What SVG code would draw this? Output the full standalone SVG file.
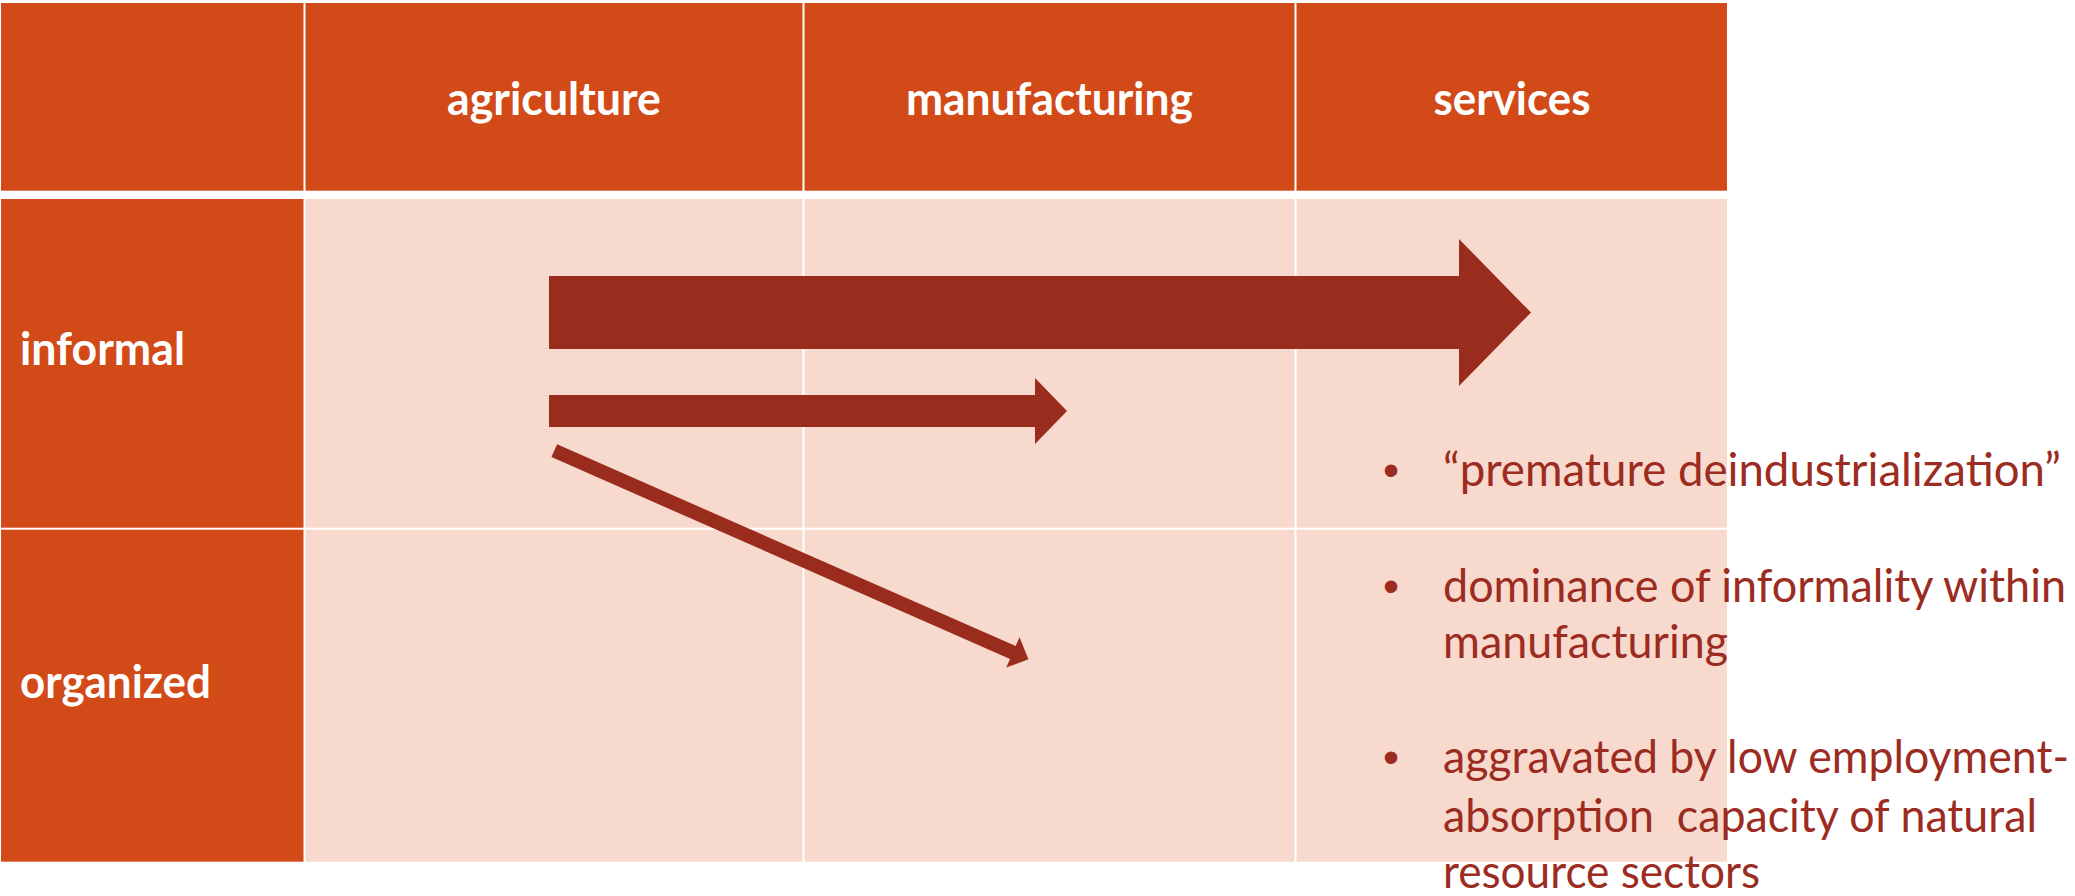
<svg xmlns="http://www.w3.org/2000/svg" width="2075" height="896" viewBox="0 0 2075 896">
  <style>
    .hdr { fill: #D24A18; }
    .cell { fill: #F8D9CD; }
    .lbl { font-family: Lato, "Liberation Sans", sans-serif; font-weight: 700; font-size: 46px; fill: #FFFFFF; }
    .ctr { text-anchor: middle; }
    .arrow { fill: #9A2C1D; }
    .note { font-family: Lato, "Liberation Sans", sans-serif; font-size: 46px; fill: #9B2C1F; }
    .dot { font-family: "Liberation Sans", Arial, sans-serif; font-size: 46px; fill: #9B2C1F; text-anchor: middle; }
  </style>

  <rect x="0" y="0" width="2075" height="896" fill="#FFFFFF"/>

  <!-- header row -->
  <g id="header-corner">
    <rect class="hdr" x="1" y="3" width="302.5" height="187.7"/>
  </g>
  <g id="header-agriculture">
    <rect class="hdr" x="305.5" y="3" width="497" height="187.7"/>
    <text class="lbl ctr" x="554" y="115" textLength="214" lengthAdjust="spacingAndGlyphs">agriculture</text>
  </g>
  <g id="header-manufacturing">
    <rect class="hdr" x="804.5" y="3" width="490" height="187.7"/>
    <text class="lbl ctr" x="1049.5" y="115" textLength="287" lengthAdjust="spacingAndGlyphs">manufacturing</text>
  </g>
  <g id="header-services">
    <rect class="hdr" x="1296.5" y="3" width="430.5" height="187.7"/>
    <text class="lbl ctr" x="1512" y="115" textLength="157" lengthAdjust="spacingAndGlyphs">services</text>
  </g>

  <!-- informal row -->
  <g id="row-informal">
    <rect class="hdr" x="1" y="199" width="302.5" height="328.7"/>
    <text class="lbl" x="20" y="365" textLength="165" lengthAdjust="spacingAndGlyphs">informal</text>
  </g>
  <g id="informal-agriculture"><rect class="cell" x="305.5" y="199" width="497" height="328.7"/></g>
  <g id="informal-manufacturing"><rect class="cell" x="804.5" y="199" width="490" height="328.7"/></g>
  <g id="informal-services"><rect class="cell" x="1296.5" y="199" width="430.5" height="328.7"/></g>

  <!-- organized row -->
  <g id="row-organized">
    <rect class="hdr" x="1" y="529.7" width="302.5" height="332"/>
    <text class="lbl" x="20" y="698" textLength="191" lengthAdjust="spacingAndGlyphs">organized</text>
  </g>
  <g id="organized-agriculture"><rect class="cell" x="305.5" y="529.7" width="497" height="332"/></g>
  <g id="organized-manufacturing"><rect class="cell" x="804.5" y="529.7" width="490" height="332"/></g>
  <g id="organized-services"><rect class="cell" x="1296.5" y="529.7" width="430.5" height="332"/></g>

  <!-- sector shift arrows -->
  <g id="connectors">
    <polygon id="to-services" class="arrow" points="549,276 1459,276 1459,239 1531,312.5 1459,386 1459,349 549,349"/>
    <polygon id="to-manufacturing" class="arrow" points="549,395 1035,395 1035,378 1067,411 1035,444 1035,427 549,427"/>
    <polygon id="to-organized" class="arrow" transform="translate(554.3,450.7) rotate(23.75)" points="0,-7 501,-7 501,-16.5 518,0 501,16.5 501,7 0,7"/>
  </g>

  <!-- notes -->
  <g id="notes">
    <text class="dot" x="1391" y="486">•</text>
    <text class="note" x="1443" y="486" textLength="618" lengthAdjust="spacingAndGlyphs">“premature deindustrialization”</text>

    <text class="dot" x="1391" y="602">•</text>
    <text class="note" x="1443" y="602" textLength="623" lengthAdjust="spacingAndGlyphs">dominance of informality within</text>
    <text class="note" x="1443" y="658" textLength="285" lengthAdjust="spacingAndGlyphs">manufacturing</text>

    <text class="dot" x="1391" y="773">•</text>
    <text class="note" x="1443" y="773" textLength="626" lengthAdjust="spacingAndGlyphs">aggravated by low employment-</text>
    <text class="note" x="1443" y="832" textLength="594" lengthAdjust="spacingAndGlyphs" xml:space="preserve">absorption  capacity of natural</text>
    <text class="note" x="1443" y="888" textLength="317" lengthAdjust="spacingAndGlyphs">resource sectors</text>
  </g>
</svg>
